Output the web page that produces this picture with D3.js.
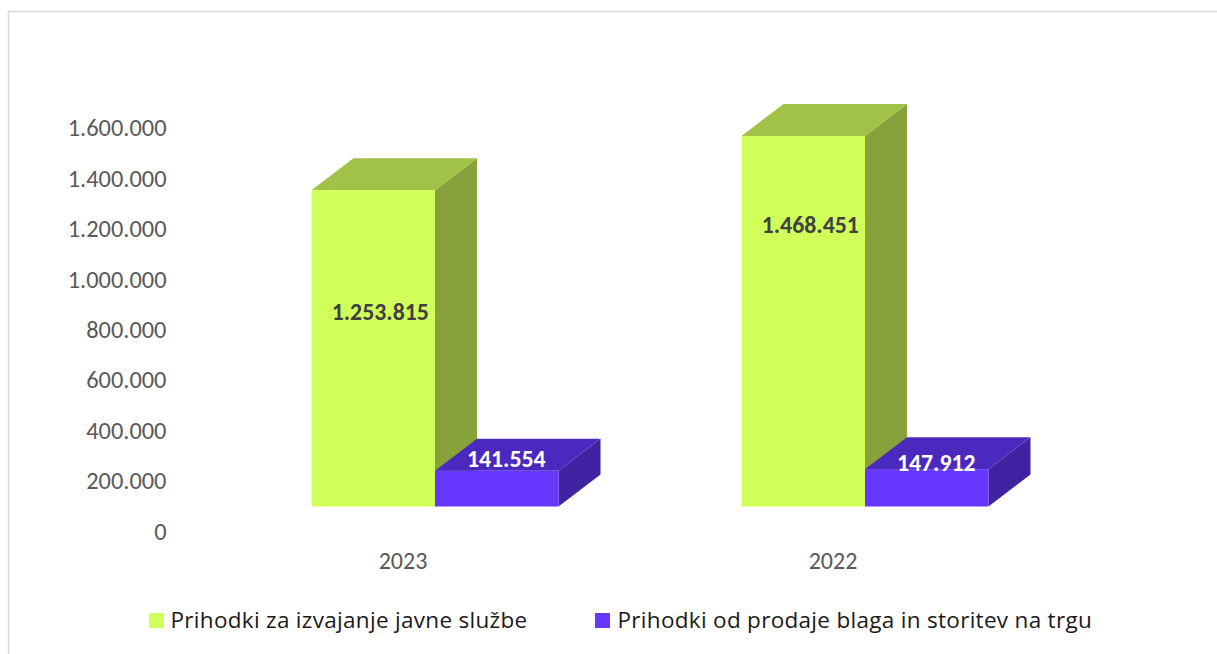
<!DOCTYPE html>
<html><head><meta charset="utf-8">
<style>html,body{margin:0;padding:0;background:#fff;overflow:hidden}svg{display:block}</style>
<script src="https://cdn.jsdelivr.net/npm/d3@7"></script></head><body>
<svg id="c" width="1217" height="654"></svg>
<script>
const categories = ["2023", "2022"];
const seriesNames = ["Prihodki za izvajanje javne službe", "Prihodki od prodaje blaga in storitev na trgu"];
const javnaSluzba = [1253815, 1468451];
const trg = [141554, 147912];
const yTicks = [0, 200000, 400000, 600000, 800000, 1000000, 1200000, 1400000, 1600000];

const W = 1217, H = 654, depthX = 42, depthY = 32, floorY = 506.5;
const svg = d3.select("#c");
const fmt = v => d3.format(",")(v).replace(/,/g, ".");

svg.append("path").attr("d", `M8.5,${H}V11.5H${W}`).attr("fill", "none").attr("stroke", "#d9d9d9").attr("stroke-width", 1.5);

const y = d3.scaleLinear().domain([0, 1600000]).range([floorY, floorY - 403.7]);
const x0 = d3.scaleBand().domain(categories).range([220, 1080]).paddingInner(0).paddingOuter(0);
const x1 = d3.scaleBand().domain([0, 1]).range([x0.bandwidth() / 2 - 123.5, x0.bandwidth() / 2 + 123.5]);

const tickFont = "Carlito, Lato, sans-serif";
const yAxis = d3.axisLeft(y).tickValues(yTicks).tickFormat(fmt).tickSize(0).tickPadding(0);
const gy = svg.append("g").attr("transform", `translate(166.5,25)`).call(yAxis);
gy.select(".domain").remove();
gy.selectAll("text").attr("font-family", tickFont).attr("font-size", 24.4).attr("fill", "#595959");

const xAxis = d3.axisBottom(x0).tickSize(0).tickPadding(0);
const gx = svg.append("g").attr("transform", `translate(-32,551.5)`).call(xAxis);
gx.select(".domain").remove();
gx.selectAll("text").attr("font-family", tickFont).attr("font-size", 24).attr("fill", "#595959");

const palette = [
  {front: "#d0ff5a", top: "#a0c247", side: "#87a23b"},
  {front: "#6638ff", top: "#4b29bf", side: "#3f23a0"}
];

function bar(g, sx, value, c) {
  const x = sx, w = x1.bandwidth(), t = y(value), b = y(0);
  g.append("polygon").attr("fill", c.side)
    .attr("points", [[x+w,t],[x+w+depthX,t-depthY],[x+w+depthX,b-depthY],[x+w,b]].join(" "));
  g.append("polygon").attr("fill", c.top)
    .attr("points", [[x,t],[x+depthX,t-depthY],[x+w+depthX,t-depthY],[x+w,t]].join(" "));
  g.append("rect").attr("x", x).attr("y", t).attr("width", w).attr("height", b - t).attr("fill", c.front);
}

categories.forEach((cat, i) => {
  const g = svg.append("g").attr("transform", `translate(${x0(cat)},0)`);
  bar(g, x1(0), javnaSluzba[i], palette[0]);
  bar(g, x1(1), trg[i], palette[1]);
  g.append("text").attr("x", x1(0) + x1.bandwidth() / 2 + 7).attr("y", [311.5, 224.5][i])
    .attr("dy", "0.35em").attr("text-anchor", "middle").attr("font-family", tickFont)
    .attr("font-weight", 700).attr("font-size", 23.8).attr("fill", "#404040").text(fmt(javnaSluzba[i]));
  g.append("text").attr("x", x1(1) + x1.bandwidth() / 2 + 9.5).attr("y", [458.5, 462.5][i])
    .attr("dy", "0.35em").attr("text-anchor", "middle").attr("font-family", tickFont)
    .attr("font-weight", 700).attr("font-size", 23.8).attr("fill", "#ffffff").text(fmt(trg[i]));
});

const legendX = [149, 595];
seriesNames.forEach((n, i) => {
  svg.append("rect").attr("x", legendX[i]).attr("y", 613).attr("width", 15).attr("height", 15).attr("fill", palette[i].front);
  svg.append("text").attr("x", legendX[i] + 21.5 + (i ? 1 : 0)).attr("y", 620.5).attr("dy", "0.35em")
    .attr("font-family", "'Open Sans', sans-serif").attr("font-size", 22.5).attr("letter-spacing", 0.3).attr("fill", "#1a1a1a").text(n);
});
</script></body></html>
